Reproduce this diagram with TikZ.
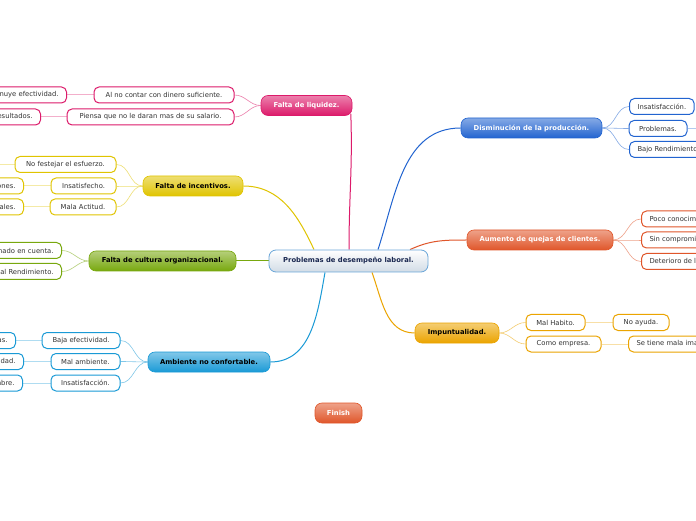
\documentclass[tikz,border=0pt]{standalone}
\usepackage{fontspec}
\setmainfont{DejaVu Sans}
\usepackage{xcolor}
\usepackage{tikz}
\usetikzlibrary{calc,backgrounds}
\definecolor{cPink}{HTML}{DC1A6A}
\definecolor{cYellow}{HTML}{E0C400}
\definecolor{cGreen}{HTML}{78A80E}
\definecolor{cCyan}{HTML}{1A9AD6}
\definecolor{cBlue}{HTML}{2264D0}
\definecolor{cOrange}{HTML}{E0562A}
\definecolor{cAmber}{HTML}{EBA400}
\definecolor{cEdge}{HTML}{6AA6D8}
\definecolor{cMist}{HTML}{D2DCE6}
\definecolor{cNavy}{HTML}{1A2850}
\definecolor{cInk}{HTML}{333333}
\newcommand{\mapfont}{\fontsize{6.8}{8}\selectfont}
\tikzset{
  ctr/.style={draw=cEdge,top color=white,bottom color=cMist,rounded corners=7pt,line width=0.8pt,font=\mapfont\bfseries,text=cNavy,inner sep=2pt},
  topic/.style={draw=#1,top color=#1!55!white,bottom color=#1,rounded corners=7pt,line width=0.6pt,font=\mapfont\bfseries,minimum height=20pt,inner sep=2pt},
  topic/.default=cBlue,
  leaf/.style={draw=#1,fill=white,rounded corners=5pt,line width=1pt,font=\mapfont,text=cInk,minimum height=16pt,inner xsep=8pt,inner ysep=2pt},
  leaf/.default=cBlue,
  trunk/.style={line width=1pt,color=#1},
  twig/.style={line width=0.6pt,color=#1!55!white},
  link/.style={line width=1pt,color=#1!35!white},
}

\begin{document}
\begin{tikzpicture}[x=1pt,y=1pt]
  \useasboundingbox (0,0) rectangle (696,520);
  % centro
  \node[ctr,minimum width=159pt,minimum height=22pt] (prob) at (348.5,259) {Problemas de desempeño laboral.};
  % temas
  \node[topic=cPink,text=white,minimum width=91pt] (liq) at (306.5,414.5) {Falta de liquidez.};
  \node[topic=cYellow,text=black,minimum width=100pt] (inc) at (193,334) {Falta de incentivos.};
  \node[topic=cGreen,text=black,minimum width=147pt] (cul) at (162.5,259) {Falta de cultura organizacional.};
  \node[topic=cCyan,text=black,minimum width=122pt] (amb) at (209,158) {Ambiente no confortable.};
  \node[topic=cBlue,text=white,minimum width=141pt] (dis) at (531.5,392) {Disminución de la producción.};
  \node[topic=cOrange,text=white,minimum width=146pt] (aum) at (540,280) {Aumento de quejas de clientes.};
  \node[topic=cAmber,text=black,minimum width=84pt] (imp) at (457,187) {Impuntualidad.};
  \node[topic=cOrange,text=white,minimum width=47pt] (fin) at (338.5,107) {Finish};
  % falta de liquidez
  \node[leaf=cPink,minimum width=140pt] (noc) at (164,425) {Al no contar con dinero suficiente.};
  \node[leaf=cPink,minimum width=167pt] (pie) at (150.5,403) {Piensa que no le daran mas de su salario.};
  \node[leaf=cPink,anchor=east] (efe) at (67,425) {Disminuye efectividad.};
  \node[leaf=cPink,anchor=east] (res) at (41,403) {Bajos resultados.};
  % falta de incentivos
  \node[leaf=cYellow,minimum width=101pt] (fes) at (65.5,355.5) {No festejar el esfuerzo.};
  \node[leaf=cYellow,minimum width=65pt] (ins) at (83.5,334) {Insatisfecho.};
  \node[leaf=cYellow,minimum width=66pt] (mac) at (83,313) {Mala Actitud.};
  \node[leaf=cYellow,anchor=east] (rel) at (24,334) {Malas relaciones.};
  \node[leaf=cYellow,anchor=east] (con) at (24,313) {Conflictos laborales.};
  \coordinate (fesx) at (-12,355.5);
  % falta de cultura
  \node[leaf=cGreen,anchor=east] (tom) at (62,269.5) {No es tomado en cuenta.};
  \node[leaf=cGreen,anchor=east] (afe) at (62,248.5) {Afecta al Rendimiento.};
  % ambiente no confortable
  \node[leaf=cCyan,minimum width=78pt] (bef) at (81,179.5) {Baja efectividad.};
  \node[leaf=cCyan,minimum width=69pt] (mam) at (85.5,158.5) {Mal ambiente.};
  \node[leaf=cCyan,minimum width=69pt] (isf) at (85.5,137) {Insatisfacción.};
  \node[leaf=cCyan,anchor=east] (ven) at (16,179.5) {Bajas ventas.};
  \node[leaf=cCyan,anchor=east] (pro) at (24,158.5) {Baja productividad.};
  \node[leaf=cCyan,anchor=east] (ice) at (23,137) {Incertidumbre.};
  % disminucion de la produccion
  \node[leaf=cBlue,anchor=west] (dins) at (629,413.5) {Insatisfacción.};
  \node[leaf=cBlue,minimum width=58pt] (dpro) at (658,391.5) {Problemas.};
  \node[leaf=cBlue,anchor=west] (dbaj) at (629,370.5) {Bajo Rendimiento.};
  \coordinate (dprox) at (712,391.5);
  % aumento de quejas
  \node[leaf=cOrange,anchor=west] (poc) at (641,301) {Poco conocimiento.};
  \node[leaf=cOrange,anchor=west] (sin) at (641,280) {Sin compromiso.};
  \node[leaf=cOrange,anchor=west] (det) at (641,258.5) {Deterioro de la imagen.};
  % impuntualidad
  \node[leaf=cAmber,minimum width=59pt] (hab) at (555.5,197.5) {Mal Habito.};
  \node[leaf=cAmber,minimum width=75pt] (emp) at (563.5,176) {Como empresa.};
  \node[leaf=cAmber,minimum width=56pt] (ayu) at (641,197.5) {No ayuda.};
  \node[leaf=cAmber,anchor=west] (ima) at (628,176) {Se tiene mala imagen.};
  \begin{scope}[on background layer]
    \fill[white] (0,0) rectangle (696,520);
    \clip (0,0) rectangle (696,520);
    % ramas principales
    \draw[trunk=cPink] ([xshift=0.5pt]prob.north) to[out=90,in=-88] ([shift={(-1.5pt,2pt)}]liq.south east);
    \draw[trunk=cBlue] ([xshift=29.5pt]prob.north) to[out=72,in=180] (dis.west);
    \draw[trunk=cOrange] ([xshift=61.5pt]prob.north) to[out=25,in=180] (aum.west);
    \draw[trunk=cYellow] ([xshift=-34.5pt]prob.north) to[out=115,in=0] (inc.east);
    \draw[trunk=cGreen] (prob.west) -- (cul.east);
    \draw[trunk=cCyan] ([xshift=-23.5pt]prob.south) to[out=-100,in=0] (amb.east);
    \draw[trunk=cAmber] ([xshift=23.5pt]prob.south) to[out=-70,in=180] (imp.west);
    % hojas
    \draw[twig=cPink] (liq.west) to[out=180,in=0] (noc.east);
    \draw[twig=cPink] (liq.west) to[out=180,in=0] (pie.east);
    \draw[twig=cYellow] (inc.west) to[out=180,in=0] (fes.east);
    \draw[twig=cYellow] (inc.west) to[out=180,in=0] (ins.east);
    \draw[twig=cYellow] (inc.west) to[out=180,in=0] (mac.east);
    \draw[twig=cGreen] (cul.west) to[out=180,in=0] (tom.east);
    \draw[twig=cGreen] (cul.west) to[out=180,in=0] (afe.east);
    \draw[twig=cCyan] (amb.west) to[out=180,in=0] (bef.east);
    \draw[twig=cCyan] (amb.west) to[out=180,in=0] (mam.east);
    \draw[twig=cCyan] (amb.west) to[out=180,in=0] (isf.east);
    \draw[twig=cBlue] (dis.east) to[out=0,in=180] (dins.west);
    \draw[twig=cBlue] (dis.east) to[out=0,in=180] (dpro.west);
    \draw[twig=cBlue] (dis.east) to[out=0,in=180] (dbaj.west);
    \draw[twig=cOrange] (aum.east) to[out=0,in=180] (poc.west);
    \draw[twig=cOrange] (aum.east) to[out=0,in=180] (sin.west);
    \draw[twig=cOrange] (aum.east) to[out=0,in=180] (det.west);
    \draw[twig=cAmber] (imp.east) to[out=0,in=180] (hab.west);
    \draw[twig=cAmber] (imp.east) to[out=0,in=180] (emp.west);
    % enlaces
    \draw[link=cPink] (noc.west) -- (efe.east);
    \draw[link=cPink] (pie.west) -- (res.east);
    \draw[link=cYellow] (fes.west) -- (fesx);
    \draw[link=cYellow] (ins.west) -- (rel.east);
    \draw[link=cYellow] (mac.west) -- (con.east);
    \draw[link=cCyan] (bef.west) -- (ven.east);
    \draw[link=cCyan] (mam.west) -- (pro.east);
    \draw[link=cCyan] (isf.west) -- (ice.east);
    \draw[link=cBlue] (dpro.east) -- (dprox);
    \draw[link=cAmber] (hab.east) -- (ayu.west);
    \draw[link=cAmber] (emp.east) -- (ima.west);
  \end{scope}
\end{tikzpicture}
\end{document}
